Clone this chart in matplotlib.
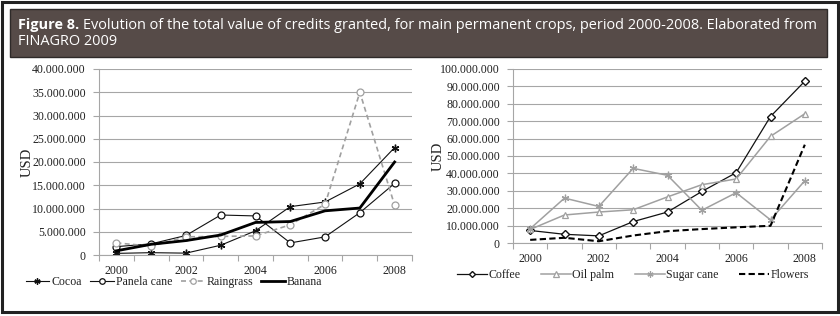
import matplotlib
matplotlib.use("Agg")
import matplotlib.pyplot as plt
from matplotlib.patches import Rectangle
from matplotlib.ticker import FuncFormatter, MultipleLocator, FixedLocator

# ---------------- data ----------------
years = [2000, 2001, 2002, 2003, 2004, 2005, 2006, 2007, 2008]
year_labels = ["2000", "", "2002", "", "2004", "", "2006", "", "2008"]

cocoa = [0.35e6, 0.5e6, 0.4e6, 2.1e6, 5.2e6, 10.4e6, 11.4e6, 15.3e6, 23.1e6]
panela = [1.8e6, 2.4e6, 4.2e6, 8.6e6, 8.4e6, 2.6e6, 3.9e6, 9.1e6, 15.4e6]
raingrass = [2.6e6, 1.9e6, 3.9e6, 4.0e6, 4.1e6, 6.5e6, 10.9e6, 35.0e6, 10.7e6]
banana = [0.9e6, 2.3e6, 3.1e6, 4.3e6, 7.0e6, 7.2e6, 9.5e6, 10.1e6, 20.0e6]

coffee = [7.2e6, 5.0e6, 4.1e6, 12.3e6, 17.8e6, 29.6e6, 40.4e6, 72.7e6, 93.0e6]
oil_palm = [7.8e6, 16.1e6, 17.8e6, 19.1e6, 26.5e6, 33.5e6, 36.8e6, 61.3e6, 74.3e6]
sugar_cane = [8.2e6, 25.8e6, 21.0e6, 42.9e6, 38.9e6, 18.8e6, 28.9e6, 13.3e6, 35.8e6]
flowers = [1.8e6, 3.0e6, 1.0e6, 4.3e6, 6.8e6, 8.0e6, 9.0e6, 9.9e6, 56.5e6]

title_bold = "Figure 8."
title_line1 = "Evolution of the total value of credits granted, for main permanent crops, period 2000-2008. Elaborated from"
title_line2 = "FINAGRO 2009"

# ---------------- style ----------------
W, H = 840, 316
plt.rcParams['font.family'] = ['Liberation Serif', 'DejaVu Serif']
fig = plt.figure(figsize=(W / 100, H / 100), dpi=100)

GRID = "#a6a6a6"
TXT = "#222222"
GREY = "#a0a0a0"

def px(x0, y0, x1, y1):
    return [x0 / W, 1 - y1 / H, (x1 - x0) / W, (y1 - y0) / H]

# outer frame
fig.patches.append(Rectangle((2 / W, 4 / H), (W - 4) / W, (H - 6) / H, transform=fig.transFigure,
                             fill=False, edgecolor="#222222", linewidth=2.2, zorder=0))
# title box
fig.patches.append(Rectangle((10 / W, 1 - 57 / H), 817 / W, 48 / H, transform=fig.transFigure,
                             facecolor="#564b48", edgecolor="#2e2a29", linewidth=1.0, zorder=1))

# title text, fitted so the first line spans the measured width
renderer = fig.canvas.get_renderer()
tfam = ['Open Sans', 'DejaVu Sans']
size = 10.0
target = 817 - 18
for _ in range(3):
    a = fig.text(0, 0, title_bold + " ", family=tfam, size=size, weight='bold')
    b = fig.text(0, 0, title_line1, family=tfam, size=size)
    wtot = a.get_window_extent(renderer).width + b.get_window_extent(renderer).width
    a.remove(); b.remove()
    size *= target / wtot
tfont = dict(family=tfam, size=size, color="white")
t1 = fig.text(18 / W, 1 - 29 / H, title_bold + " ", va='baseline', ha='left', weight='bold', **tfont)
bb = t1.get_window_extent(renderer)
fig.text(bb.x1 / W, 1 - 29 / H, title_line1, va='baseline', ha='left', **tfont)
fig.text(18 / W, 1 - 45 / H, title_line2, va='baseline', ha='left', **tfont)

fmt = FuncFormatter(lambda v, p: "{:,.0f}".format(v).replace(",", "."))
x = list(range(len(years)))

def style_axes(ax, ymax, ystep):
    ax.set_xlim(-0.5, len(years) - 0.5)
    ax.set_ylim(0, ymax)
    ax.yaxis.set_major_locator(MultipleLocator(ystep))
    ax.yaxis.set_major_formatter(fmt)
    ax.xaxis.set_major_locator(FixedLocator(x))
    ax.set_xticklabels(year_labels)
    ax.xaxis.set_minor_locator(FixedLocator([i - 0.5 for i in range(len(years) + 1)]))
    ax.tick_params(axis='x', which='major', length=0, pad=7, labelsize=8.6, labelcolor=TXT)
    ax.tick_params(axis='x', which='minor', length=4, width=0.8, color=GRID, direction='out')
    ax.tick_params(axis='y', length=4, width=0.8, color=GRID, pad=5.5, labelsize=8.6, labelcolor=TXT)
    ax.grid(axis='y', color=GRID, linewidth=0.8)
    ax.set_axisbelow(True)
    for s in ['top', 'right']:
        ax.spines[s].set_visible(False)
    for s in ['left', 'bottom']:
        ax.spines[s].set_color(GRID)
        ax.spines[s].set_linewidth(0.8)
    ax.set_ylabel("USD", fontsize=10.5, color=TXT)

# ---------------- left chart ----------------
ax1 = fig.add_axes(px(99, 69, 412, 255))
ax1.plot(x, cocoa, color="#111111", lw=0.8, marker=(6, 2, 0), ms=5.5, mew=1.0, mec="#111111", label="Cocoa")
ax1.plot(x, panela, color="#111111", lw=0.8, marker='o', ms=5, mfc='white', mew=0.9, mec="#111111", label="Panela cane")
ax1.plot(x, raingrass, color=GREY, lw=1.2, ls=(0, (3, 2)), marker='o', ms=5, mfc='white', mew=0.9, mec=GREY, label="Raingrass")
ax1.plot(x, banana, color="#000000", lw=2.0, label="Banana")
style_axes(ax1, 40e6, 5e6)
ax1.yaxis.set_label_coords(-0.208, 0.5)
ax1.legend(loc='center', bbox_to_anchor=(174 / W, 1 - 282 / H), bbox_transform=fig.transFigure,
           ncol=4, frameon=False, fontsize=8.6, handlelength=2.0, handletextpad=0.15,
           columnspacing=0.7, borderpad=0, labelcolor=TXT, markerscale=0.8)

# ---------------- right chart ----------------
ax2 = fig.add_axes(px(513, 69, 822, 243))
ax2.plot(x, coffee, color="#111111", lw=0.9, marker='D', ms=3.8, mfc='white', mew=1.0, mec="#111111", label="Coffee")
ax2.plot(x, oil_palm, color=GREY, lw=1.1, marker='^', ms=5, mfc='white', mew=0.9, mec=GREY, label="Oil palm")
ax2.plot(x, sugar_cane, color=GREY, lw=1.1, marker=(6, 2, 0), ms=5.5, mew=0.9, mec=GREY, label="Sugar cane")
ax2.plot(x, flowers, color="#000000", lw=1.5, ls=(0, (3, 1.6)), label="Flowers")
style_axes(ax2, 100e6, 10e6)
ax2.yaxis.set_label_coords(-0.222, 0.5)
ax2.legend(loc='center', bbox_to_anchor=(633 / W, 1 - 275 / H), bbox_transform=fig.transFigure,
           ncol=4, frameon=False, fontsize=8.6, handlelength=2.5, handletextpad=0.15,
           columnspacing=1.7, borderpad=0, labelcolor=TXT, markerscale=0.8)

fig.savefig("out.png", dpi=100)
